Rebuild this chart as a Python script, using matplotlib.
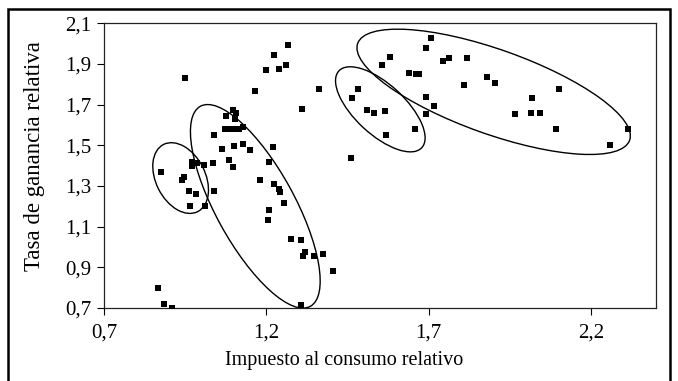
import matplotlib
matplotlib.use("Agg")
import matplotlib.pyplot as plt
from matplotlib.patches import Ellipse, Rectangle
from matplotlib.transforms import Affine2D

# === datos ===
impuesto = [
    0.876, 0.867, 0.885, 0.909, 0.950, 0.941, 0.947, 0.962, 0.983, 0.965,
    1.010, 1.039, 0.970, 0.986, 0.971, 1.009, 1.036, 1.039, 1.064, 1.075,
    1.096, 1.106, 1.103, 1.073, 1.083, 1.100, 1.117, 1.127, 1.085, 1.096,
    1.101, 1.129, 1.150, 1.166, 1.179, 1.199, 1.224, 1.239, 1.260, 1.268,
    1.310, 1.363, 1.220, 1.208, 1.224, 1.240, 1.242, 1.253, 1.207, 1.204,
    1.277, 1.306, 1.319, 1.314, 1.347, 1.375, 1.404, 1.306, 1.461,
    1.483, 1.465, 1.510, 1.532, 1.565, 1.568, 1.658, 1.691, 1.691, 1.716,
    1.556, 1.580, 1.638, 1.661, 1.671, 1.691, 1.708, 1.745, 1.761, 1.819,
    1.809, 1.879, 1.904, 2.019, 2.101, 1.967, 2.015, 2.044, 2.093, 2.315,
    2.257,
]
ganancia = [
    1.367, 0.800, 0.721, 0.701, 1.831, 1.329, 1.346, 1.275, 1.262, 1.203,
    1.204, 1.276, 1.416, 1.414, 1.399, 1.401, 1.413, 1.551, 1.484, 1.642,
    1.674, 1.660, 1.630, 1.579, 1.580, 1.579, 1.579, 1.590, 1.426, 1.395,
    1.498, 1.506, 1.479, 1.766, 1.327, 1.870, 1.943, 1.875, 1.896, 1.995,
    1.680, 1.778, 1.493, 1.418, 1.308, 1.283, 1.272, 1.217, 1.184, 1.134,
    1.041, 1.034, 0.977, 0.955, 0.955, 0.968, 0.883, 0.713, 1.439,
    1.778, 1.733, 1.674, 1.660, 1.667, 1.549, 1.582, 1.654, 1.739, 1.693,
    1.896, 1.936, 1.857, 1.851, 1.851, 1.980, 2.028, 1.916, 1.929, 1.929,
    1.798, 1.837, 1.805, 1.733, 1.778, 1.654, 1.660, 1.660, 1.582, 1.582,
    1.503,
]

# elipses que marcan los grupos (ancho/alto en unidades del eje x, ángulo visual)
elipse_cx = [0.936, 1.166, 1.551, 1.900]
elipse_cy = [1.339, 1.200, 1.677, 1.763]
elipse_ancho = [0.232, 0.703, 0.348, 0.889]
elipse_alto = [0.152, 0.242, 0.154, 0.260]
elipse_angulo = [117, 118.8, 137.2, 160.4]

xticks = [0.7, 1.2, 1.7, 2.2]
yticks = [0.7, 0.9, 1.1, 1.3, 1.5, 1.7, 1.9, 2.1]
xlim = (0.7, 2.4)
ylim = (0.7, 2.1)

plt.rcParams["font.family"] = ["Liberation Serif", "DejaVu Serif"]

W, H = 678, 381
fig = plt.figure(figsize=(W / 100, H / 100), dpi=100)
ax = fig.add_axes([104 / W, 1 - 308 / H, (656 - 104) / W, (308 - 23.3) / H])

ax.scatter(impuesto, ganancia, marker="s", s=20, color="black", linewidths=0, zorder=3)

ax.set_xlim(*xlim)
ax.set_ylim(*ylim)

# relación de escala para dibujar las elipses con su forma visual
bb = ax.get_position()
px_x = bb.width * W / (xlim[1] - xlim[0])
px_y = bb.height * H / (ylim[1] - ylim[0])
k = px_y / px_x
tr = Affine2D().scale(1, 1 / k) + ax.transData
for cx, cy, w, h, a in zip(elipse_cx, elipse_cy, elipse_ancho, elipse_alto, elipse_angulo):
    e = Ellipse((cx, cy * k), w, h, angle=a, transform=tr,
                fill=False, edgecolor="black", linewidth=1.0)
    ax.add_patch(e)

ax.set_xticks(xticks)
ax.set_xticklabels([f"{v:.1f}".replace(".", ",") for v in xticks])
ax.set_yticks(yticks)
ax.set_yticklabels([f"{v:.1f}".replace(".", ",") for v in yticks])
ax.tick_params(direction="out", length=5, width=0.8, labelsize=15, colors="black")
ax.tick_params(axis="x", pad=6)
ax.tick_params(axis="y", pad=4)
for s in ax.spines.values():
    s.set_linewidth(0.9)
    s.set_color("#222222")

fig.text(344.5 / W, 1 - 361 / H, "Impuesto al consumo relativo",
         ha="center", va="center", fontsize=14.5)
fig.text(35 / W, 1 - 156 / H, "Tasa de ganancia relativa",
         ha="center", va="center", rotation=90, fontsize=16.5)

# marco exterior
fig.add_artist(Rectangle((8 / W, -0.05), (670 - 8) / W, 1.05 - 9 / H,
                         transform=fig.transFigure, fill=False,
                         edgecolor="black", linewidth=1.8))

fig.savefig("out.png", dpi=100)
